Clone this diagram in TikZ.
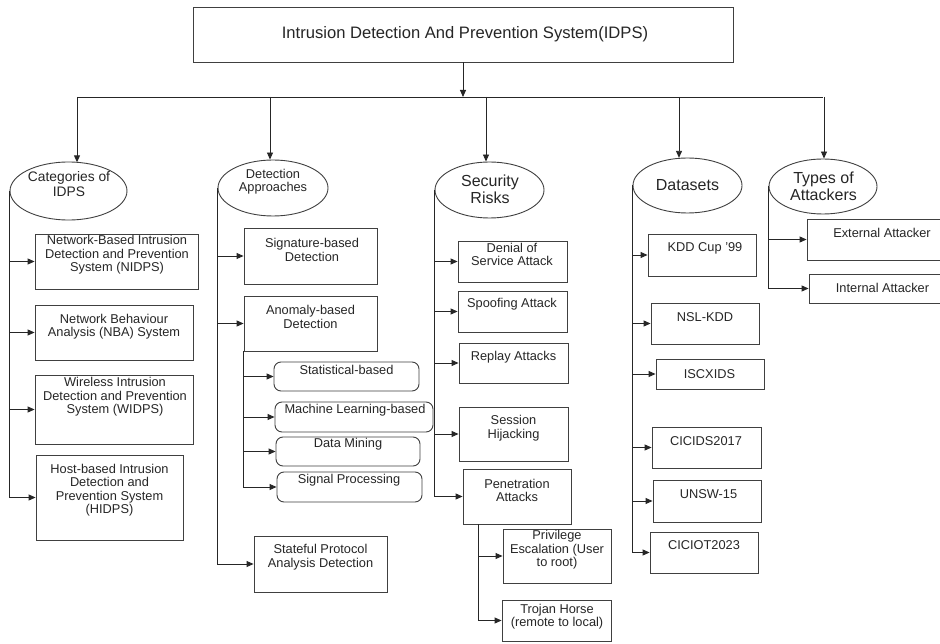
\documentclass[tikz,border=0pt]{standalone}
\usepackage{fontspec}
\setmainfont{Liberation Sans}
\usetikzlibrary{shapes.geometric,arrows.meta,calc}
\newcommand{\mkBoxIDPS}[9]{%
  \pgfmathsetmacro\cxA{(#3+#5)/2}\pgfmathsetmacro\cyA{(#4+#6)/2}%
  \pgfmathsetmacro\wA{#5-#3}\pgfmathsetmacro\hA{#6-#4}%
  \node[#1, minimum width=\wA pt, minimum height=\hA pt] (#2) at (\cxA,\cyA) {};%
  \node[lbl] (#2-t) at (#7,#8) {#9};}
\begin{document}
\begin{tikzpicture}[x=1pt,y=-1pt,
  bx/.style={draw=black!75, line width=0.9pt, rectangle, inner sep=0pt},
  rbx/.style={bx, rounded corners=7pt},
  el/.style={draw=black!75, line width=0.9pt, ellipse, inner sep=0pt},
  lbl/.style={align=center, font=\fontsize{12.8}{13.4}\selectfont, inner sep=0pt, text=black!85},
  lblA/.style={lbl, font=\fontsize{13.8}{15}\selectfont},
  lblB/.style={lbl, font=\fontsize{16}{16.6}\selectfont},
  lblT/.style={lbl, font=\fontsize{16.6}{18}\selectfont},
  ln/.style={draw=black!85, line width=0.9pt},
  arw/.style={ln, -{Triangle[length=7pt,width=6pt]}}
]
\useasboundingbox (0,0) rectangle (940,644);
\fill[white] (0,0) rectangle (940,644);
\clip (0,0) rectangle (940,644);

% title
\mkBoxIDPS{bx}{title}{193}{7}{733}{62}{465}{34.5}{}
\node[lblT] at (title-t) {Intrusion Detection And Prevention System(IDPS)};

% ellipses
\mkBoxIDPS{el}{cat}{10}{162}{127}{220}{69}{184.5}{}
\node[lblA] at (cat-t) {Categories of\\IDPS};
\mkBoxIDPS{el}{det}{218}{160}{328}{216}{273}{181.5}{Detection\\Approaches}
\mkBoxIDPS{el}{sec}{435}{162}{544}{218}{490}{189}{}
\node[lblB] at (sec-t) {Security\\Risks};
\mkBoxIDPS{el}{ds}{633}{158}{742}{213}{687.5}{185}{}
\node[lblB] at (ds-t) {Datasets};
\mkBoxIDPS{el}{typ}{769}{159}{877}{214}{823.5}{186}{}
\node[lblB] at (typ-t) {Types of\\Attackers};

% categories
\mkBoxIDPS{bx}{nidps}{35}{234}{198}{289}{117}{255}{Network-Based Intrusion\\Detection and Prevention\\System (NIDPS)}
\mkBoxIDPS{bx}{nba}{35}{305}{193}{360}{114}{326.5}{Network Behaviour\\Analysis (NBA) System}
\mkBoxIDPS{bx}{widps}{35}{375}{193}{444}{115}{397}{Wireless Intrusion\\Detection and Prevention\\System (WIDPS)}
\mkBoxIDPS{bx}{hidps}{36}{455}{183}{540}{109.5}{490}{Host-based Intrusion\\Detection and\\Prevention System\\(HIDPS)}

% detection
\mkBoxIDPS{bx}{sig}{244}{228}{377}{284}{312}{250}{Signature-based\\Detection}
\mkBoxIDPS{bx}{anom}{244}{296}{377}{351}{310.5}{317}{Anomaly-based\\Detection}
\mkBoxIDPS{rbx}{stat}{274}{362}{419}{391}{346.5}{370}{Statistical-based}
\mkBoxIDPS{rbx}{ml}{275}{402}{433}{432}{355}{410}{Machine Learning-based}
\mkBoxIDPS{rbx}{dm}{276}{437}{420}{466}{348}{444}{Data Mining}
\mkBoxIDPS{rbx}{sp}{277}{472}{422}{502}{349}{480}{Signal Processing}
\mkBoxIDPS{bx}{spa}{254}{536}{387}{592}{320.5}{557}{Stateful Protocol\\Analysis Detection}

% security risks
\mkBoxIDPS{bx}{dos}{458}{241}{567}{282}{512}{254.5}{Denial of\\Service Attack}
\mkBoxIDPS{bx}{spoof}{458}{291}{567}{332}{512}{304}{Spoofing Attack}
\mkBoxIDPS{bx}{rep}{459}{343}{568}{383}{513.5}{357}{Replay Attacks}
\mkBoxIDPS{bx}{sess}{459}{407}{568}{461}{513.5}{428}{Session\\Hijacking}
\mkBoxIDPS{bx}{pen}{463}{469}{571}{524}{517}{490.5}{Penetration\\Attacks}
\mkBoxIDPS{bx}{priv}{503}{529}{611}{583}{557}{550}{Privilege\\Escalation (User\\to root)}
\mkBoxIDPS{bx}{troj}{502}{600}{611}{641}{557}{616.5}{Trojan Horse\\(remote to local)}

% datasets
\mkBoxIDPS{bx}{kdd}{648}{234}{756}{276}{705}{248}{KDD Cup '99}
\mkBoxIDPS{bx}{nsl}{651}{303}{759}{344}{705}{317}{NSL-KDD}
\mkBoxIDPS{bx}{iscx}{656}{359}{764}{389}{709.5}{374}{ISCXIDS}
\mkBoxIDPS{bx}{cic17}{652}{427}{761}{468}{706}{441}{CICIDS2017}
\mkBoxIDPS{bx}{unsw}{653}{480}{761}{522}{708.5}{494}{UNSW-15}
\mkBoxIDPS{bx}{ciciot}{650}{532}{758}{573}{704}{545.5}{CICIOT2023}

% attackers
\mkBoxIDPS{bx}{ext}{807}{219}{957}{260}{882}{233}{External Attacker}
\mkBoxIDPS{bx}{int}{809}{274}{957}{303}{882.5}{288}{Internal Attacker}

% bus
\coordinate (busL) at (77,97);
\coordinate (busR) at (823,97);
\draw[ln] (busL) -- (busR);
\draw[arw] (title.south) -- (title.south |- busL);
\coordinate (catTop) at ($(cat.north)+(8.5,0.8)$);
\coordinate (detTop) at ($(det.north)+(-3,0)$);
\coordinate (secTop) at ($(sec.north)+(-3.5,0)$);
\coordinate (dsTop) at ($(ds.north)+(-8.5,0.3)$);
\coordinate (typTop) at ($(typ.north)+(1,0)$);
\foreach \t in {catTop,detTop,secTop,dsTop,typTop}
  \draw[arw] (\t |- busL) -- (\t);

% spines
\foreach \b in {nidps,nba,widps,hidps}
  \draw[arw] (cat.west) |- (\b.west);
\foreach \b in {sig,anom,spa}
  \draw[arw] (det.west) |- (\b.west);
\foreach \b in {stat,ml,dm,sp}
  \draw[arw] (anom.south west) |- (\b.west);
\foreach \b in {dos,spoof,rep,sess,pen}
  \draw[arw] (sec.west) |- (\b.west);
\coordinate (penSpine) at ($(pen.south west)+(16,0)$);
\foreach \b in {priv,troj}
  \draw[arw] (penSpine) |- (\b.west);
\foreach \b in {kdd,nsl,iscx,cic17,unsw,ciciot}
  \draw[arw] (ds.west) |- (\b.west);
\foreach \b in {ext,int}
  \draw[arw] (typ.west) |- (\b.west);
\end{tikzpicture}
\end{document}
